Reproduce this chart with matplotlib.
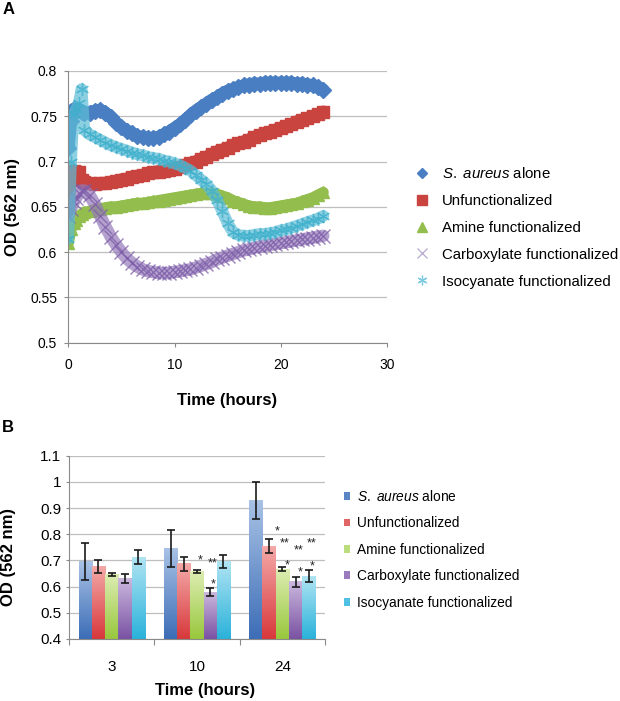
import numpy as np
import matplotlib
matplotlib.use('Agg')
import matplotlib.pyplot as plt
from matplotlib.colors import LinearSegmentedColormap
from matplotlib.lines import Line2D
from matplotlib.patches import Patch
from matplotlib.ticker import FuncFormatter, FixedLocator

plt.rcParams['font.family'] = ['Liberation Sans', 'DejaVu Sans']
plt.rcParams['mathtext.fontset'] = 'custom'
plt.rcParams['mathtext.rm'] = 'Liberation Sans'
plt.rcParams['mathtext.it'] = 'Liberation Sans:italic'
plt.rcParams['mathtext.bf'] = 'Liberation Sans:bold'

# ---------------- data ----------------
series_labels = [r'$\it{S.\ aureus}$ alone', 'Unfunctionalized', 'Amine functionalized',
                 'Carboxylate functionalized', 'Isocyanate functionalized']

time_h = [0, 0.25, 0.5, 0.75, 1.0, 1.25, 1.5, 2, 2.5, 3, 3.5, 4, 4.5, 5, 5.5, 6, 6.5, 7, 7.5,
          8, 8.5, 9, 9.5, 10, 10.5, 11, 11.5, 12, 12.5, 13, 13.5, 14, 14.5, 15, 15.5, 16, 16.5,
          17, 17.5, 18, 18.5, 19, 19.5, 20, 20.5, 21, 21.5, 22, 22.5, 23, 23.5, 24]

od_saureus = [0.715, 0.745, 0.758, 0.756, 0.757, 0.755, 0.754, 0.754, 0.756, 0.757, 0.754, 0.749,
              0.743, 0.738, 0.734, 0.731, 0.728, 0.727, 0.726, 0.726, 0.727, 0.730, 0.733, 0.737,
              0.741, 0.746, 0.751, 0.756, 0.760, 0.764, 0.768, 0.771, 0.775, 0.778, 0.780, 0.782,
              0.784, 0.785, 0.786, 0.786, 0.787, 0.787, 0.787, 0.787, 0.787, 0.787, 0.786, 0.786,
              0.785, 0.784, 0.782, 0.779]
od_unfunc = [0.645, 0.688, 0.690, 0.688, 0.688, 0.680, 0.677, 0.676, 0.675, 0.676, 0.676, 0.677,
             0.678, 0.680, 0.681, 0.683, 0.684, 0.685, 0.687, 0.688, 0.689, 0.690, 0.691, 0.692,
             0.694, 0.696, 0.698, 0.700, 0.703, 0.705, 0.708, 0.711, 0.713, 0.715, 0.718, 0.720,
             0.722, 0.724, 0.727, 0.729, 0.731, 0.733, 0.735, 0.737, 0.739, 0.741, 0.744, 0.746,
             0.748, 0.750, 0.752, 0.755]
od_amine = [0.610, 0.625, 0.632, 0.636, 0.640, 0.642, 0.644, 0.645, 0.647, 0.648, 0.649, 0.650,
            0.650, 0.651, 0.652, 0.653, 0.654, 0.654, 0.655, 0.656, 0.657, 0.658, 0.659, 0.660,
            0.661, 0.662, 0.663, 0.664, 0.665, 0.665, 0.665, 0.664, 0.662, 0.660, 0.657, 0.655,
            0.653, 0.651, 0.650, 0.650, 0.649, 0.649, 0.650, 0.651, 0.652, 0.653, 0.654, 0.656,
            0.658, 0.660, 0.663, 0.666]
od_carbox = [0.640, 0.648, 0.655, 0.660, 0.665, 0.668, 0.668, 0.663, 0.653, 0.640, 0.628, 0.617,
             0.608, 0.600, 0.593, 0.588, 0.584, 0.581, 0.579, 0.578, 0.577, 0.577, 0.577, 0.578,
             0.579, 0.580, 0.581, 0.583, 0.585, 0.587, 0.589, 0.592, 0.594, 0.596, 0.598, 0.600,
             0.602, 0.603, 0.605, 0.606, 0.607, 0.608, 0.609, 0.610, 0.611, 0.612, 0.613, 0.614,
             0.615, 0.616, 0.617, 0.618]
od_isocy = [0.615, 0.700, 0.752, 0.758, 0.765, 0.780, 0.735, 0.730, 0.727, 0.724, 0.721, 0.718,
            0.716, 0.714, 0.712, 0.710, 0.708, 0.707, 0.705, 0.704, 0.703, 0.701, 0.700, 0.698,
            0.696, 0.693, 0.690, 0.685, 0.680, 0.675, 0.668, 0.658, 0.645, 0.632, 0.622, 0.619,
            0.618, 0.618, 0.619, 0.620, 0.620, 0.621, 0.622, 0.624, 0.625, 0.627, 0.629, 0.631,
            0.633, 0.635, 0.637, 0.640]

bar_times = ['3', '10', '24']
bar_saureus = [0.696, 0.745, 0.928]
err_saureus = [0.071, 0.070, 0.070]
bar_unfunc = [0.676, 0.688, 0.755]
err_unfunc = [0.025, 0.027, 0.025]
bar_amine = [0.645, 0.658, 0.667]
err_amine = [0.006, 0.005, 0.007]
bar_carbox = [0.632, 0.578, 0.618]
err_carbox = [0.018, 0.015, 0.018]
bar_isocy = [0.713, 0.697, 0.640]
err_isocy = [0.025, 0.025, 0.022]

# significance marks: (x in category units, y in OD, text)
sig_marks = [(1.035, 0.700, '*'), (1.188, 0.688, '**'), (1.188, 0.607, '*'),
             (1.934, 0.810, '*'), (2.031, 0.765, '**'), (2.195, 0.737, '**'),
             (2.348, 0.765, '**'), (2.051, 0.680, '*'), (2.207, 0.653, '*'),
             (2.344, 0.676, '*')]

# ---------------- styling ----------------
W, H = 620, 701
fig = plt.figure(figsize=(W / 100, H / 100), dpi=100)
fig.patch.set_facecolor('white')

line_cols = ['#4A7EC2', '#C9433F', '#93BE4E', '#7C5BA8', '#3FB0CC']
band_cols = ['#4A7EC2', '#C9433F', '#93BE4E', '#9479BA', '#5DBDD6']
grid_col = '#BEBEBE'
spine_col = '#8A8A8A'
fmt = FuncFormatter(lambda v, p: '%g' % round(v, 3))

def px_axes(l, t, r, b):
    return fig.add_axes([l / W, 1 - b / H, (r - l) / W, (b - t) / H])

# ---------------- panel A ----------------
ax = px_axes(68.3, 71, 387, 342.7)
ax.set_xlim(0, 30)
ax.set_ylim(0.5, 0.8)
ax.set_yticks(np.arange(0.5, 0.8001, 0.05))
ax.set_xticks([0, 10, 20, 30])
ax.yaxis.set_major_formatter(fmt)
ax.grid(axis='y', color=grid_col, lw=0.9)
ax.set_axisbelow(True)
for s in ['top', 'right']:
    ax.spines[s].set_visible(False)
for s in ['left', 'bottom']:
    ax.spines[s].set_color(spine_col)
ax.tick_params(axis='x', length=3, color=spine_col, pad=8, labelsize=10)
ax.tick_params(axis='y', length=3, color=spine_col, pad=5, labelsize=10)

series = [od_saureus, od_unfunc, od_amine, od_carbox, od_isocy]
mk = ['D', 's', '^', 'x', (6, 2, 0)]
msz = [8, 9, 8.5, 9.5, 9.5]
band_lw = [9, 9, 8, 9, 8.5]
band_alpha = [1, 1, 1, 0.7, 0.7]
for i, ys in enumerate(series):
    ax.plot(time_h, ys, color=band_cols[i], lw=band_lw[i], alpha=band_alpha[i],
            solid_capstyle='round', solid_joinstyle='round', zorder=2 + i * 0.1)
    if i < 3:
        ax.plot(time_h, ys, ls='none', marker=mk[i], ms=msz[i], color=line_cols[i],
                mec=line_cols[i], zorder=2 + i * 0.1)
    else:
        ax.plot(time_h, ys, ls='none', marker=mk[i], ms=msz[i], color=line_cols[i],
                mew=1.0, alpha=0.75, zorder=2 + i * 0.1)

leg_handles = [
    Line2D([], [], ls='none', marker='D', ms=5, color='#4A7EC2'),
    Line2D([], [], ls='none', marker='s', ms=7, color='#C9433F'),
    Line2D([], [], ls='none', marker='^', ms=6.5, color='#93BE4E'),
    Line2D([], [], ls='none', marker='x', ms=6.5, mew=0.9, color='#B5A8D0'),
    Line2D([], [], ls='none', marker=(6, 2, 0), ms=7, mew=0.9, color='#7CCBE0'),
]
ax.legend(leg_handles, series_labels, loc='upper left',
          bbox_to_anchor=(414.5 / W, 1 - 166 / H), bbox_transform=fig.transFigure,
          frameon=False, fontsize=10.8, handlelength=1.0, handletextpad=0.83,
          labelspacing=0.86, borderpad=0, borderaxespad=0)

fig.text(13 / W, 1 - 207 / H, 'OD (562 nm)', rotation=90, fontsize=12, fontweight='bold',
         ha='center', va='center')
fig.text(227 / W, 1 - 400 / H, 'Time (hours)', fontsize=12, fontweight='bold',
         ha='center', va='center')
fig.text(3 / W, 1 - 2 / H, 'A', fontsize=12, fontweight='bold', ha='left', va='top')

# ---------------- panel B ----------------
bx = px_axes(69, 455.7, 325, 639)
bx.set_xlim(-0.5, 2.5)
bx.set_ylim(0.4, 1.1)
bx.set_yticks(np.arange(0.4, 1.1001, 0.1))
bx.yaxis.set_major_formatter(fmt)
bx.grid(axis='y', color=grid_col, lw=0.9)
bx.set_axisbelow(True)
for s in ['top', 'right']:
    bx.spines[s].set_visible(False)
for s in ['left', 'bottom']:
    bx.spines[s].set_color(spine_col)
bx.xaxis.set_major_locator(FixedLocator([-0.5, 0.5, 1.5, 2.5]))
bx.xaxis.set_major_formatter(FuncFormatter(lambda v, p: ''))
bx.xaxis.set_minor_locator(FixedLocator([0, 1, 2]))
bx.xaxis.set_minor_formatter(FuncFormatter(lambda v, p: bar_times[int(round(v))]))
bx.tick_params(axis='x', which='major', length=4, color=spine_col)
bx.tick_params(axis='x', which='minor', length=0, pad=15, labelsize=11)
bx.tick_params(axis='y', length=2.5, color=spine_col, pad=3, labelsize=11)

bar_vals = [bar_saureus, bar_unfunc, bar_amine, bar_carbox, bar_isocy]
bar_errs = [err_saureus, err_unfunc, err_amine, err_carbox, err_isocy]
grad_top = ['#A9C2E6', '#F4A9A8', '#DDEDB2', '#CBB8DE', '#B0E4F3']
grad_bot = ['#3C6DB6', '#D8383B', '#98C73C', '#7A52A3', '#2AB2DA']
legend_cols = ['#5B86C6', '#E06666', '#BCDD7E', '#9A7BBE', '#4FC2E3']
bw = 0.155
xs = np.arange(len(bar_times))
grad = np.linspace(0, 1, 128).reshape(-1, 1)
for i in range(5):
    off = (i - 2) * bw
    bars = bx.bar(xs + off, bar_vals[i], width=bw, color='none', edgecolor='none', zorder=2)
    cmap = LinearSegmentedColormap.from_list('g%d' % i, [grad_bot[i], grad_top[i]])
    for r in bars:
        x0 = r.get_x()
        top = r.get_height()
        bx.imshow(grad, extent=(x0, x0 + r.get_width(), 0.4, top), origin='lower',
                  cmap=cmap, aspect='auto', zorder=2, interpolation='bilinear')
    bx.errorbar(xs + off, bar_vals[i], yerr=bar_errs[i], fmt='none', ecolor='#1A1A1A',
                elinewidth=1.2, capsize=3, capthick=1.2, zorder=3)
bx.set_xlim(-0.5, 2.5)
bx.set_ylim(0.4, 1.1)

for (sx, sy, st) in sig_marks:
    bx.text(sx, sy, st, fontsize=9, ha='center', va='center', color='#222222', zorder=4)

b_handles = [Patch(facecolor=c, edgecolor='none') for c in legend_cols]
bx.legend(b_handles, series_labels, loc='upper left',
          bbox_to_anchor=(343.5 / W, 1 - 489 / H), bbox_transform=fig.transFigure,
          frameon=False, fontsize=9.9, handlelength=0.5, handleheight=0.5,
          handletextpad=0.48, labelspacing=0.9, borderpad=0, borderaxespad=0)

fig.text(8.5 / W, 1 - 557 / H, 'OD (562 nm)', rotation=90, fontsize=12, fontweight='bold',
         ha='center', va='center')
fig.text(205 / W, 1 - 690 / H, 'Time (hours)', fontsize=12, fontweight='bold',
         ha='center', va='center')
fig.text(2 / W, 1 - 420 / H, 'B', fontsize=12, fontweight='bold', ha='left', va='top')

fig.savefig('out.png', dpi=100)
